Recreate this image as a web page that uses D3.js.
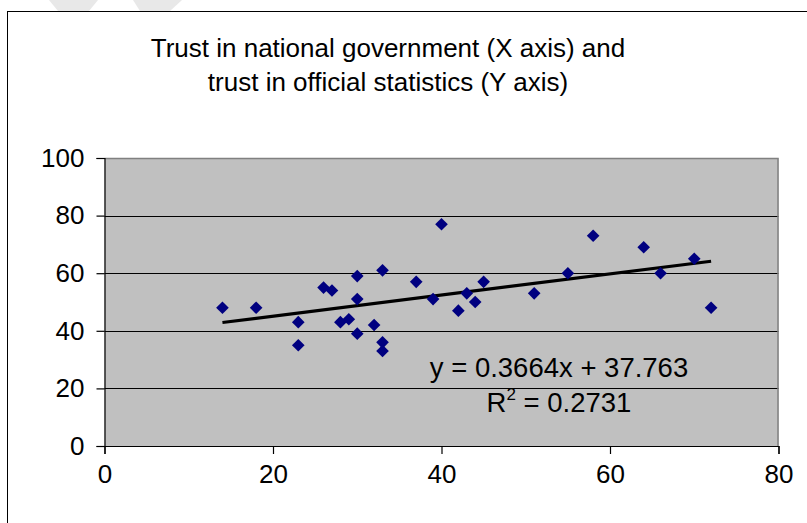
<!DOCTYPE html>
<html>
<head>
<meta charset="utf-8">
<script src="https://cdn.jsdelivr.net/npm/d3@7"></script>
<style>
  html, body { margin: 0; padding: 0; background: #ffffff; }
  svg { display: block; font-family: Arial, "Liberation Sans", sans-serif; }
</style>
</head>
<body>
<svg id="chart" width="807" height="523"></svg>
<script>
// Country-level survey results: % trusting national government (x)
// and % trusting official statistics (y)
const govTrust   = [14, 18, 23, 23, 26, 27, 28, 29, 30, 30, 30, 32, 33, 33, 33, 37, 39, 40, 42, 43, 44, 45, 51, 55, 58, 64, 66, 70, 72];
const statsTrust = [48, 48, 43, 35, 55, 54, 43, 44, 59, 51, 39, 42, 61, 36, 33, 57, 51, 77, 47, 53, 50, 57, 53, 60, 73, 69, 60, 65, 48];

// Linear trend fitted to the points
const trendSlope = 0.3664;
const trendIntercept = 37.763;
const trendR2 = 0.2731;

const xTicks = [0, 20, 40, 60, 80];
const yTicks = [0, 20, 40, 60, 80, 100];
const titleLines = ["Trust in national government (X axis) and", "trust in official statistics (Y axis)"];

const svg = d3.select("#chart");
const plot = { left: 104.5, right: 778.5, top: 158, bottom: 446 };

const x = d3.scaleLinear().domain([0, 80]).range([plot.left, plot.right]);
const y = d3.scaleLinear().domain([0, 100]).range([plot.bottom, plot.top]);

// faint background marks in the top corner
svg.append("g").attr("fill", "#e8e8e8")
  .selectAll("polygon")
  .data([[[49,0],[98,0],[89,11],[58,11]], [[133,0],[182,0],[170,11],[140,11]]])
  .join("polygon")
  .attr("points", d => d.map(p => p.join(",")).join(" "));

// chart area frame
svg.append("rect")
  .attr("x", 7.5).attr("y", 11.5)
  .attr("width", 900).attr("height", 700)
  .attr("fill", "#ffffff").attr("stroke", "#000000").attr("stroke-width", 1);

// title
svg.append("text")
  .attr("x", 388).attr("y", 57)
  .attr("text-anchor", "middle")
  .attr("font-size", 26)
  .attr("fill", "#000")
  .selectAll("tspan")
  .data(titleLines)
  .join("tspan")
  .attr("x", 388)
  .attr("dy", (d, i) => i === 0 ? 0 : 34)
  .text(d => d);

// plot area
svg.append("rect")
  .attr("x", plot.left).attr("y", plot.top)
  .attr("width", plot.right - plot.left).attr("height", plot.bottom - plot.top)
  .attr("fill", "#c0c0c0");

// horizontal gridlines
svg.append("g")
  .selectAll("line")
  .data(yTicks.filter(t => t > 0 && t < 100))
  .join("line")
  .attr("x1", plot.left).attr("x2", plot.right)
  .attr("y1", d => Math.round(y(d)) + 0.5).attr("y2", d => Math.round(y(d)) + 0.5)
  .attr("stroke", "#000").attr("stroke-width", 1);

// plot area border (top and right)
svg.append("path")
  .attr("d", `M${plot.left},${plot.top + 0.5}H${plot.right - 0.5}V${plot.bottom}`)
  .attr("fill", "none").attr("stroke", "#808080").attr("stroke-width", 1.5);

// axes
const xAxis = d3.axisBottom(x).tickValues(xTicks).tickSize(8).tickPadding(8).tickFormat(d3.format("d"));
const yAxis = d3.axisLeft(y).tickValues(yTicks).tickSize(8).tickPadding(12).tickFormat(d3.format("d"));

const gx = svg.append("g").attr("transform", `translate(0,${plot.bottom})`).call(xAxis);
const gy = svg.append("g").attr("transform", `translate(${plot.left},0)`).call(yAxis);
[gx, gy].forEach(g => {
  g.select(".domain").attr("stroke", "#000").attr("stroke-width", 1.2);
  g.selectAll(".tick line").attr("stroke", "#000").attr("stroke-width", 1.2);
  g.selectAll(".tick text").attr("fill", "#000").attr("font-size", 26)
    .attr("font-family", "Arial, 'Liberation Sans', sans-serif");
});
gx.selectAll(".tick text").attr("dy", "0.8em");

// trend line across the range of the data
const xExt = d3.extent(govTrust);
svg.append("line")
  .attr("x1", x(xExt[0])).attr("y1", y(trendSlope * xExt[0] + trendIntercept))
  .attr("x2", x(xExt[1])).attr("y2", y(trendSlope * xExt[1] + trendIntercept))
  .attr("stroke", "#000").attr("stroke-width", 3.2).attr("stroke-linecap", "butt");

// data points as diamonds
const diamond = d3.symbol(d3.symbolSquare, 80);
svg.append("g")
  .selectAll("path")
  .data(govTrust.map((g, i) => [g, statsTrust[i]]))
  .join("path")
  .attr("d", diamond)
  .attr("transform", d => `translate(${x(d[0])},${y(d[1])}) rotate(45)`)
  .attr("fill", "#000080");

// equation labels
const eq = svg.append("g").attr("font-size", 27.5).attr("fill", "#000").attr("text-anchor", "middle");
eq.append("text").attr("x", 559).attr("y", 377)
  .text(`y = ${trendSlope}x + ${trendIntercept}`);
const r2 = eq.append("text").attr("x", 559).attr("y", 412);
r2.append("tspan").text("R");
r2.append("tspan").attr("font-size", 17).attr("dy", -12).text("2");
r2.append("tspan").attr("dy", 12).text(` = ${trendR2}`);
</script>
</body>
</html>
